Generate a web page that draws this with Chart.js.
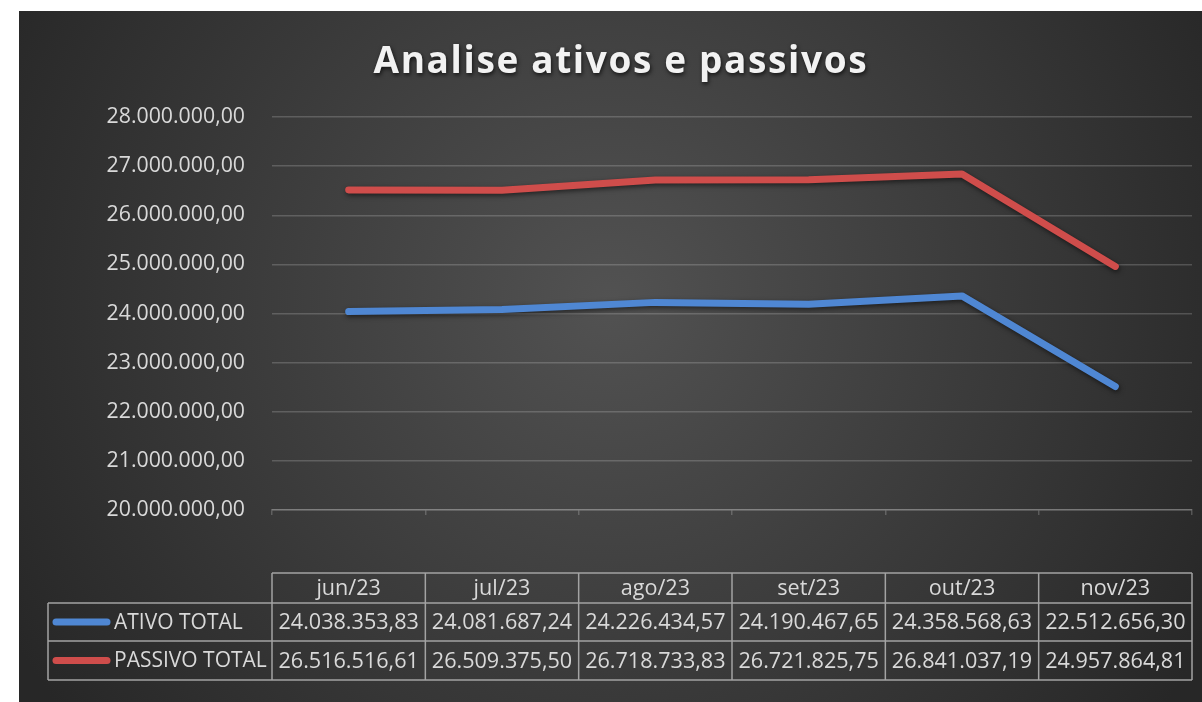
<!DOCTYPE html>
<html><head><meta charset="utf-8">
<script src="https://cdn.jsdelivr.net/npm/chart.js@4.4.1/dist/chart.umd.min.js"></script>
<style>
html,body{margin:0;padding:0;background:#fff;overflow:hidden}
#wrap{position:absolute;left:19px;top:11px;width:1183px;height:691px}
</style></head><body>
<div id="wrap"><canvas id="c" width="1183" height="691"></canvas></div>
<script>
const categories = ['jun/23','jul/23','ago/23','set/23','out/23','nov/23'];
const ativoTotal = [24038353.83, 24081687.24, 24226434.57, 24190467.65, 24358568.63, 22512656.30];
const passivoTotal = [26516516.61, 26509375.50, 26718733.83, 26721825.75, 26841037.19, 24957864.81];
const seriesNames = ['ATIVO TOTAL', 'PASSIVO TOTAL'];
const seriesColors = ['#4f87d3', '#cf4d4b'];
const yMin = 20000000, yMax = 28000000, yStep = 1000000;
const titleText = 'Analise ativos e passivos';

const FONT = '"Open Sans", "DejaVu Sans", sans-serif';
const TEXT_COLOR = '#d9d9d9';

function fmt(v) {
  const neg = v < 0; v = Math.abs(v);
  const s = v.toFixed(2);
  let [ip, fp] = s.split('.');
  ip = ip.replace(/\B(?=(\d{3})+(?!\d))/g, '.');
  return (neg ? '-' : '') + ip + ',' + fp;
}

const bgPlugin = {
  id: 'bg',
  beforeDraw(chart) {
    const { ctx, width, height } = chart;
    const cx = width * 0.5, cy = height * 0.42;
    const g = ctx.createRadialGradient(cx, cy, 0, cx, cy, width * 0.58);
    g.addColorStop(0, '#525252');
    g.addColorStop(1, '#272727');
    ctx.save();
    ctx.fillStyle = g;
    ctx.fillRect(0, 0, width, height);
    ctx.restore();
  }
};

const titlePlugin = {
  id: 'ttl',
  afterDraw(chart) {
    const ctx = chart.ctx;
    ctx.save();
    ctx.font = 'bold 37px ' + FONT;
    ctx.letterSpacing = '0px';
    const w0 = ctx.measureText(titleText).width;
    const target = 493;
    const sp = (target - w0) / (titleText.length - 1);
    ctx.letterSpacing = sp.toFixed(2) + 'px';
    ctx.textAlign = 'left';
    ctx.textBaseline = 'alphabetic';
    ctx.shadowColor = 'rgba(0,0,0,0.7)';
    ctx.shadowBlur = 4;
    ctx.shadowOffsetX = 1;
    ctx.shadowOffsetY = 2;
    ctx.fillStyle = '#f2f2f2';
    ctx.fillText(titleText, 601 - target / 2, 62);
    ctx.restore();
  }
};

const shadowPlugin = {
  id: 'shd',
  beforeDatasetsDraw(chart) {
    const ctx = chart.ctx;
    ctx.save();
    ctx.shadowColor = 'rgba(0,0,0,0.55)';
    ctx.shadowBlur = 5;
    ctx.shadowOffsetX = 1;
    ctx.shadowOffsetY = 2;
  },
  afterDatasetsDraw(chart) { chart.ctx.restore(); }
};

const tablePlugin = {
  id: 'tbl',
  afterDraw(chart) {
    const ctx = chart.ctx;
    const xs = chart.scales.x;
    const left = chart.chartArea.left, right = chart.chartArea.right;
    const n = categories.length;
    const colW = (right - left) / n;
    const hTop = 562, hBot = 592, r1Bot = 630, r2Bot = 669, labL = 29;
    ctx.save();
    ctx.strokeStyle = '#a3a3a3';
    ctx.lineWidth = 1.5;
    ctx.beginPath();
    ctx.moveTo(left, hTop); ctx.lineTo(right, hTop);
    ctx.moveTo(labL, hBot); ctx.lineTo(right, hBot);
    ctx.moveTo(labL, r1Bot); ctx.lineTo(right, r1Bot);
    ctx.moveTo(labL, r2Bot); ctx.lineTo(right, r2Bot);
    ctx.moveTo(labL, hBot); ctx.lineTo(labL, r2Bot);
    for (let i = 0; i <= n; i++) {
      const bx = i < n ? xs.getPixelForValue(i) - colW / 2 : xs.getPixelForValue(n - 1) + colW / 2;
      ctx.moveTo(bx, hTop); ctx.lineTo(bx, r2Bot);
    }
    ctx.stroke();

    ctx.fillStyle = TEXT_COLOR;
    ctx.font = '21.6px ' + FONT;
    ctx.textBaseline = 'middle';
    ctx.textAlign = 'center';
    const rowsY = [(hTop + hBot) / 2, (hBot + r1Bot) / 2, (r1Bot + r2Bot) / 2];
    const series = [ativoTotal, passivoTotal];
    categories.forEach((c, i) => {
      const cx = xs.getPixelForValue(i);
      ctx.fillText(c, cx, rowsY[0] + 1);
      series.forEach((s, k) => ctx.fillText(fmt(s[i]), cx, rowsY[k + 1] + 1));
    });
    ctx.textAlign = 'left';
    ctx.font = '21px ' + FONT;
    seriesNames.forEach((nm, k) => {
      const y = rowsY[k + 1];
      ctx.strokeStyle = seriesColors[k];
      ctx.lineWidth = 7;
      ctx.lineCap = 'round';
      ctx.beginPath();
      ctx.moveTo(37, y); ctx.lineTo(88, y);
      ctx.stroke();
      ctx.fillText(nm, 95, y + 1);
    });
    ctx.restore();
  }
};

const chart = new Chart(document.getElementById('c'), {
  type: 'line',
  data: {
    labels: categories,
    datasets: [
      { label: seriesNames[0], data: ativoTotal, borderColor: seriesColors[0], backgroundColor: seriesColors[0] },
      { label: seriesNames[1], data: passivoTotal, borderColor: seriesColors[1], backgroundColor: seriesColors[1] }
    ]
  },
  options: {
    responsive: false,
    animation: false,
    devicePixelRatio: 1,
    layout: { padding: { top: 106, right: 10, left: 0, bottom: 0 } },
    elements: {
      line: { borderWidth: 7, borderCapStyle: 'round', borderJoinStyle: 'round', tension: 0 },
      point: { radius: 0, hoverRadius: 0 }
    },
    plugins: { legend: { display: false }, title: { display: false }, tooltip: { enabled: false } },
    scales: {
      x: {
        offset: true,
        ticks: { display: false },
        grid: { offset: true, drawOnChartArea: false, drawTicks: true, tickLength: 5, color: 'rgba(255,255,255,0.2)', lineWidth: 1.5 },
        border: { display: true, color: 'rgba(255,255,255,0.2)', width: 1.5 },
        afterFit(s) { s.height = 192; }
      },
      y: {
        min: yMin, max: yMax,
        ticks: { stepSize: yStep, callback: v => fmt(v), color: TEXT_COLOR, font: { family: FONT, size: 21.3 }, padding: 27 },
        grid: { color: 'rgba(255,255,255,0.18)', lineWidth: 1.5, drawTicks: false },
        border: { display: false },
        afterFit(s) { s.width = 253; }
      }
    }
  },
  plugins: [bgPlugin, shadowPlugin, tablePlugin, titlePlugin]
});
</script>
</body></html>
